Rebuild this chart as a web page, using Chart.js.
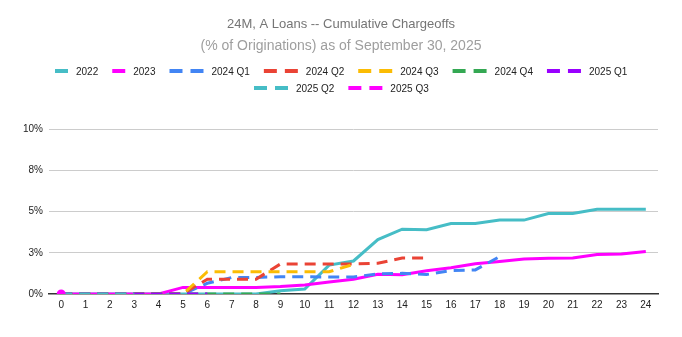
<!DOCTYPE html>
<html>
<head>
<meta charset="utf-8">
<script src="https://cdn.jsdelivr.net/npm/chart.js@4.4.1/dist/chart.umd.min.js"></script>
<style>
  html, body { margin: 0; padding: 0; background: #fff; }
  #wrap { width: 682px; height: 337px; }
</style>
</head>
<body>
<div id="wrap"><canvas id="chart"></canvas></div>
<script>
// months on book
const MONTHS = ["0","1","2","3","4","5","6","7","8","9","10","11","12",
                "13","14","15","16","17","18","19","20","21","22","23","24"];

// cumulative chargeoffs, % of originations
const V2022   = [0, 0, 0, 0, 0, 0, 0, 0, 0, 0.2, 0.3, 1.75, 2.0, 3.3, 3.93, 3.9,
                 4.27, 4.27, 4.48, 4.48, 4.88, 4.88, 5.14, 5.14, 5.14];
const V2023   = [0, 0, 0, 0, 0, 0.4, 0.4, 0.4, 0.4, 0.45, 0.55, 0.73, 0.9, 1.19, 1.17, 1.41,
                 1.59, 1.83, 1.97, 2.12, 2.16, 2.18, 2.4, 2.43, 2.58];
const V24Q1   = [0, 0, 0, 0, 0, 0, 0.65, 1.0, 1.0, 1.05, 1.05, 1.03, 1.03, 1.22, 1.25, 1.18,
                 1.42, 1.46, 2.27];
const V24Q2   = [0, 0, 0, 0, 0, 0, 0.9, 0.9, 0.9, 1.82, 1.82, 1.82, 1.82, 1.86, 2.18, 2.18];
const V24Q3   = [0, 0, 0, 0, 0, 0, 1.35, 1.35, 1.35, 1.35, 1.35, 1.35, 1.8];
const V24Q4   = [0, 0, 0, 0, 0, 0, 0, 0, 0, 0];
const V25Q1   = [0, 0, 0, 0, 0, 0, 0];
const V25Q2   = [0, 0, 0, 0];
const V25Q3   = [0];

const Y_TICKS = [0, 2.5, 5, 7.5, 10];

const TITLE    = "24M, A Loans -- Cumulative Chargeoffs";
const SUBTITLE = "(% of Originations) as of September 30, 2025";

const FONT = '"Liberation Sans", Arial, sans-serif';
const DASH = [11, 7];

function series(label, data, color, dashed) {
  return {
    label, data,
    borderColor: color,
    backgroundColor: color,
    borderWidth: 3,
    borderDash: dashed ? DASH : [],
    pointRadius: data.length === 1 ? 3 : 0,
    tension: 0,
    fill: false
  };
}

const datasets = [
  series("2022",    V2022, "#46bdc6", false),
  series("2023",    V2023, "#ff00ff", false),
  series("2024 Q1", V24Q1, "#4285f4", true),
  series("2024 Q2", V24Q2, "#ea4335", true),
  series("2024 Q3", V24Q3, "#fbbc04", true),
  series("2024 Q4", V24Q4, "#34a853", true),
  series("2025 Q1", V25Q1, "#9900ff", true),
  series("2025 Q2", V25Q2, "#46bdc6", true),
  series("2025 Q3", V25Q3, "#ff00ff", true)
];
// later series on top, like the original
datasets.forEach((d, i) => d.order = -i);

// title, subtitle and a line-sample legend
const headerPlugin = {
  id: "header",
  afterDraw(chart) {
    const ctx = chart.ctx;
    const cx  = chart.width / 2;
    ctx.save();
    ctx.textAlign = "center";
    ctx.textBaseline = "middle";
    ctx.fillStyle = "#757575";
    ctx.font = "13px " + FONT;
    ctx.fillText(TITLE, cx, 24);
    ctx.fillStyle = "#9e9e9e";
    ctx.font = "14px " + FONT;
    ctx.fillText(SUBTITLE, cx, 46);

    ctx.font = "10px " + FONT;
    ctx.textAlign = "left";
    const GAP = 14, MAXW = 590;
    const items = chart.data.datasets.map(ds => {
      const sw = ds.borderDash.length ? 34 : 13;
      return { ds, sw, w: sw + 8 + ctx.measureText(ds.label).width };
    });
    const rows = [[]];
    let rw = 0;
    items.forEach(it => {
      const add = (rows[rows.length - 1].length ? GAP : 0) + it.w;
      if (rw + add > MAXW) { rows.push([it]); rw = it.w; }
      else { rows[rows.length - 1].push(it); rw += add; }
    });
    rows.forEach((row, r) => {
      const total = row.reduce((a, it) => a + it.w, 0) + GAP * (row.length - 1);
      let x = Math.round(cx - total / 2);
      const y = 71 + r * 17;
      row.forEach(it => {
        ctx.strokeStyle = it.ds.borderColor;
        ctx.lineWidth = 4;
        ctx.beginPath();
        if (it.sw > 13) {
          ctx.moveTo(x, y); ctx.lineTo(x + 13, y);
          ctx.moveTo(x + 21, y); ctx.lineTo(x + 34, y);
        } else {
          ctx.moveTo(x, y); ctx.lineTo(x + 13, y);
        }
        ctx.stroke();
        ctx.fillStyle = "#222";
        ctx.fillText(it.ds.label, x + it.sw + 8, y + 1);
        x += it.w + GAP;
      });
    });
    ctx.restore();
  }
};

new Chart(document.getElementById("chart"), {
  type: "line",
  data: { labels: MONTHS, datasets },
  plugins: [headerPlugin],
  options: {
    responsive: true,
    maintainAspectRatio: false,
    animation: false,
    layout: { padding: { top: 129, right: 24, left: 0, bottom: 0 } },
    plugins: { legend: { display: false }, tooltip: { enabled: false }, title: { display: false } },
    scales: {
      x: {
        type: "category",
        offset: true,
        grid: { display: false, drawTicks: false },
        border: { color: "#333", width: 1.5 },
        ticks: { color: "#222", font: { family: FONT, size: 10 }, padding: 5,
                 maxRotation: 0, autoSkip: false },
        afterFit: s => { s.height = 43; }
      },
      y: {
        min: 0, max: 10,
        afterBuildTicks: s => { s.ticks = Y_TICKS.map(v => ({ value: v })); },
        grid: { drawTicks: false, color: c => c.tick && c.tick.value === 0 ? "rgba(0,0,0,0)" : "#cccccc" },
        border: { display: false },
        ticks: { color: "#222", font: { family: FONT, size: 10 }, padding: 6,
                 callback: v => Math.round(v) + "%" },
        afterFit: s => { s.width = 49; }
      }
    }
  }
});
</script>
</body>
</html>
